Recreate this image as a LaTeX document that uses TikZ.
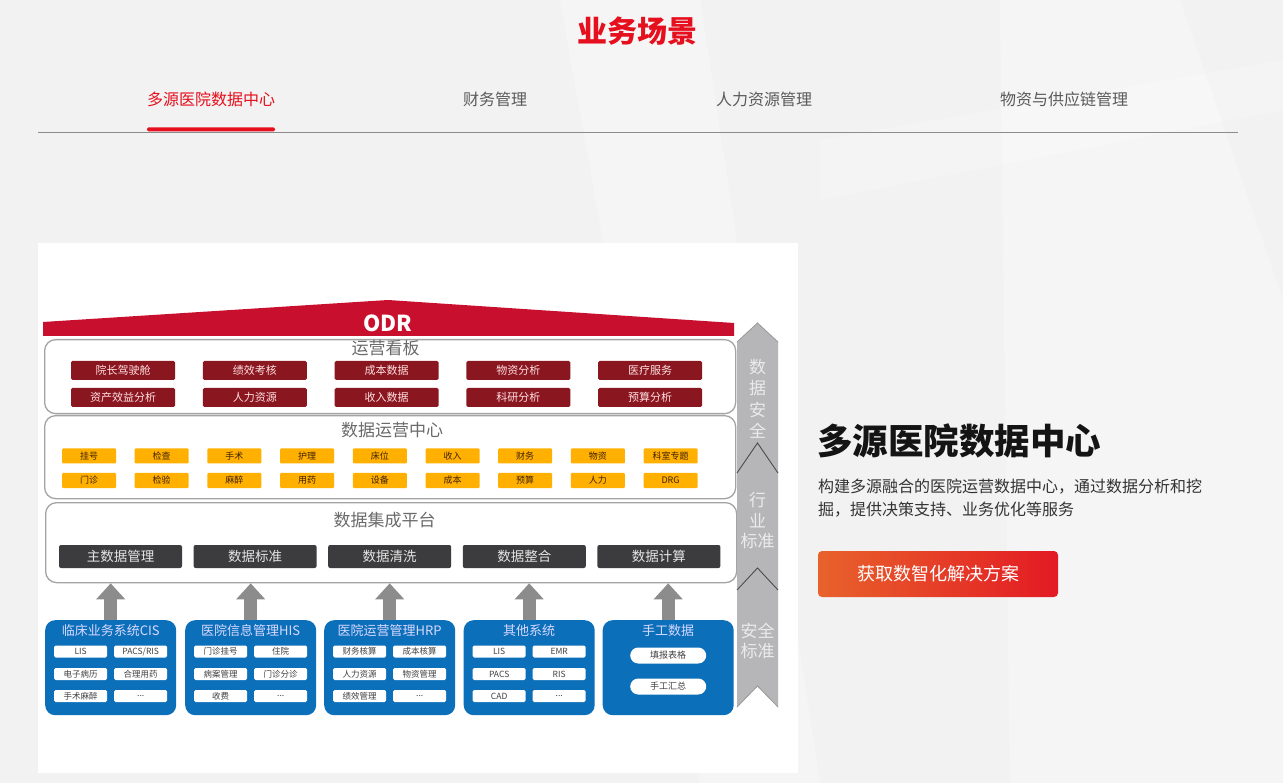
\documentclass[tikz,border=0pt]{standalone}
\usepackage{fontspec}
\setmainfont{Noto Sans CJK SC}
\usetikzlibrary{arrows.meta,calc}
\definecolor{bg}{HTML}{F2F2F3}
\definecolor{hred}{HTML}{E50F1D}
\definecolor{tabgray}{HTML}{5A5A5A}
\definecolor{odrred}{HTML}{C8102E}
\definecolor{kanban}{HTML}{8A1620}
\definecolor{orangebox}{HTML}{FFB000}
\definecolor{darkbox}{HTML}{3C3C3E}
\definecolor{bluebox}{HTML}{0B6FBA}
\definecolor{secborder}{HTML}{A3A3A3}
\definecolor{sectitle}{HTML}{6A6A6A}
\definecolor{colgray}{HTML}{B6B6B8}
\definecolor{arrowgray}{HTML}{8C8C8C}
\definecolor{btnorange}{HTML}{E8622B}
\definecolor{btnred}{HTML}{E31A24}
\newcommand{\fs}[1]{\fontsize{#1}{#1}\selectfont}
\newcommand{\mydots}{...}
\tikzset{
  secbox/.style={draw=secborder, line width=1.3pt, rounded corners=11pt, fill=white, anchor=north west, inner sep=0},
  sectitle/.style={text=sectitle, font=\fs{17}, inner sep=0},
  redbox/.style={fill=kanban, rounded corners=1.5pt, minimum width=104pt, minimum height=19pt, inner sep=0, text=white!88!red, font=\fs{11}},
  orbox/.style={fill=orangebox, rounded corners=1pt, minimum width=54pt, minimum height=15pt, inner sep=0, text=black!75!orange, font=\fs{9}},
  dkbox/.style={fill=darkbox, rounded corners=2pt, minimum width=123pt, minimum height=23pt, inner sep=0, text=white!90!black, font=\fs{13.5}},
  srcbox/.style={fill=bluebox, rounded corners=10pt, minimum width=131pt, minimum height=95pt, anchor=north west, inner sep=0},
  srctitle/.style={text=white!85!blue, font=\fs{13}, inner sep=0},
  itembox/.style={fill=white, rounded corners=1.5pt, minimum width=53pt, minimum height=12pt, inner sep=0, text=black!75, font=\fs{8.5}},
  pillbox/.style={fill=white, rounded corners=8pt, minimum width=76pt, minimum height=16pt, inner sep=0, text=black!75, font=\fs{9}},
  uparrow/.style={draw=arrowgray, line width=13pt, -{Triangle[width=28pt,length=16pt]}},
  coltext/.style={text=white!92!black, font=\fs{17}, inner sep=0, align=center},
  tab/.style={text=tabgray, font=\fs{16}, inner sep=0}
}
\begin{document}
\begin{tikzpicture}[x=1pt,y=-1pt]
\useasboundingbox (0,0) rectangle (1283,783);
\fill[bg] (0,0) rectangle (1283,783);
% faint background architecture
\fill[white, opacity=0.3] (560,0) -- (700,0) -- (820,783) -- (700,783) -- cycle;
\fill[white, opacity=0.3] (1000,0) -- (1180,0) -- (1283,300) -- (1283,783) -- (1010,783) -- cycle;
\fill[white, opacity=0.2] (820,140) -- (1283,60) -- (1283,110) -- (820,200) -- cycle;

% header
\node[text=hred, font=\fs{30}\bfseries, inner sep=0] (title) at (637,31) {业务场景};
\node[tab, text=hred] (tab1) at (211,99) {多源医院数据中心};
\node[tab] (tab2) at (495,99) {财务管理};
\node[tab] (tab3) at (764,99) {人力资源管理};
\node[tab] (tab4) at (1064,99) {物资与供应链管理};
\draw[black!45, line width=1pt] (38,132.5) -- (1238,132.5);
\fill[hred, rounded corners=1.5pt] (147,127.5) rectangle (275,131.5);

% diagram panel
\fill[white] (38,243) rectangle (798,773);

% roof
\fill[odrred] (43,336) -- (43,322) -- (388,300) -- (734,323) -- (734,336) -- cycle;
\node[text=white, font=\fs{22}\bfseries, inner sep=0] (odr) at (388,323.5) {ODR};

% section 1
\node[secbox, minimum width=691pt, minimum height=74pt] (sec1) at (44,339) {};
\node[sectitle] (sec1t) at (385.5,348) {运营看板};
\foreach \t [count=\i] in {院长驾驶舱,绩效考核,成本数据,物资分析,医疗服务}
  \node[redbox] (ra\i) at ({123+131.8*(\i-1)},370.5) {\t};
\foreach \t [count=\i] in {资产效益分析,人力资源,收入数据,科研分析,预算分析}
  \node[redbox] (rb\i) at ({123+131.8*(\i-1)},397.5) {\t};

% section 2
\node[secbox, minimum width=691pt, minimum height=83pt] (sec2) at (44,415) {};
\node[sectitle] (sec2t) at (392,430) {数据运营中心};
\foreach \t [count=\i] in {挂号,检查,手术,护理,床位,收入,财务,物资,科室专题}
  \node[orbox] (oa\i) at ({89+72.7*(\i-1)},456) {\t};
\foreach \t [count=\i] in {门诊,检验,麻醉,用药,设备,成本,预算,人力,DRG}
  \node[orbox] (ob\i) at ({89+72.7*(\i-1)},480.5) {\t};

% section 3
\node[secbox, minimum width=691pt, minimum height=80pt] (sec3) at (45,502) {};
\node[sectitle] (sec3t) at (384.5,520) {数据集成平台};
\foreach \t [count=\i] in {主数据管理,数据标准,数据清洗,数据整合,数据计算}
  \node[dkbox] (dk\i) at ({120.5+134.6*(\i-1)},556.5) {\t};

% source boxes
\node[srcbox] (s1) at (45,620) {};
\node[srcbox] (s2) at (185,620) {};
\node[srcbox] (s3) at (324,620) {};
\node[srcbox] (s4) at (463.5,620) {};
\node[srcbox] (s5) at (602.5,620) {};
\node[srctitle] (s1t) at ($(s1.north)+(0,11)$) {临床业务系统CIS};
\node[srctitle] (s2t) at ($(s2.north)+(0,11)$) {医院信息管理HIS};
\node[srctitle] (s3t) at ($(s3.north)+(0,11)$) {医院运营管理HRP};
\node[srctitle] (s4t) at ($(s4.north)+(0,11)$) {其他系统};
\node[srctitle] (s5t) at ($(s5.north)+(0,11)$) {手工数据};
\foreach \b/\la/\lb/\lc/\ld/\le/\lf in {s1/LIS/PACS\slash RIS/电子病历/合理用药/手术麻醉/\mydots,
  s2/门诊挂号/住院/病案管理/门诊分诊/收费/\mydots,
  s3/财务核算/成本核算/人力资源/物资管理/绩效管理/\mydots,
  s4/LIS/EMR/PACS/RIS/CAD/\mydots}{
  \node[itembox] (\b i1) at ($(\b.north)+(-30,31.5)$) {\la};
  \node[itembox] (\b i2) at ($(\b.north)+(30,31.5)$) {\lb};
  \node[itembox] (\b i3) at ($(\b.north)+(-30,54)$) {\lc};
  \node[itembox] (\b i4) at ($(\b.north)+(30,54)$) {\ld};
  \node[itembox] (\b i5) at ($(\b.north)+(-30,76)$) {\le};
  \node[itembox] (\b i6) at ($(\b.north)+(30,76)$) {\lf};
}
\node[pillbox] (p1) at ($(s5.north)+(0,35.5)$) {填报表格};
\node[pillbox] (p2) at ($(s5.north)+(0,66.5)$) {手工汇总};

% up arrows
\foreach \s in {s1,s2,s3,s4,s5}
  \draw[uparrow] (\s.north) -- (\s.north |- sec3.south);

% right column
\fill[colgray] (737,342) -- (757.5,323) -- (778,342) -- (778,707) -- (757.5,686) -- (737,707) -- cycle;
\draw[black!40, line width=0.8pt] (737,342) -- (757.5,323) -- (778,342) (737,707) -- (757.5,686) -- (778,707);
\draw[black!70, line width=0.9pt] (737,473) -- (757.5,443) -- (778,473);
\draw[black!70, line width=0.9pt] (737,590) -- (757.5,568) -- (778,590);
\node[coltext] (c1) at (757.5,399) {数\\[4.5pt]据\\[4.5pt]安\\[4.5pt]全};
\node[coltext] (c2) at (757.5,521) {行\\[3.5pt]业\\[3.5pt]标准};
\node[coltext] (c3) at (757.5,641) {安全\\[3.5pt]标准};

% right text
\node[anchor=west, font=\fs{35.5}\bfseries, text=black!92, inner sep=0] (head) at (817,441) {多源医院数据中心};
\node[anchor=west, font=\fs{16}, text=black!80, inner sep=0] (d1) at (818,487) {构建多源融合的医院运营数据中心，通过数据分析和挖};
\node[anchor=west, font=\fs{16}, text=black!80, inner sep=0] (d2) at (818,510) {掘，提供决策支持、业务优化等服务};
\node[rounded corners=4pt, left color=btnorange, right color=btnred, minimum width=240pt, minimum height=46pt, text=white, font=\fs{18}, inner sep=0] (btn) at (938,574) {获取数智化解决方案};
\end{tikzpicture}
\end{document}
